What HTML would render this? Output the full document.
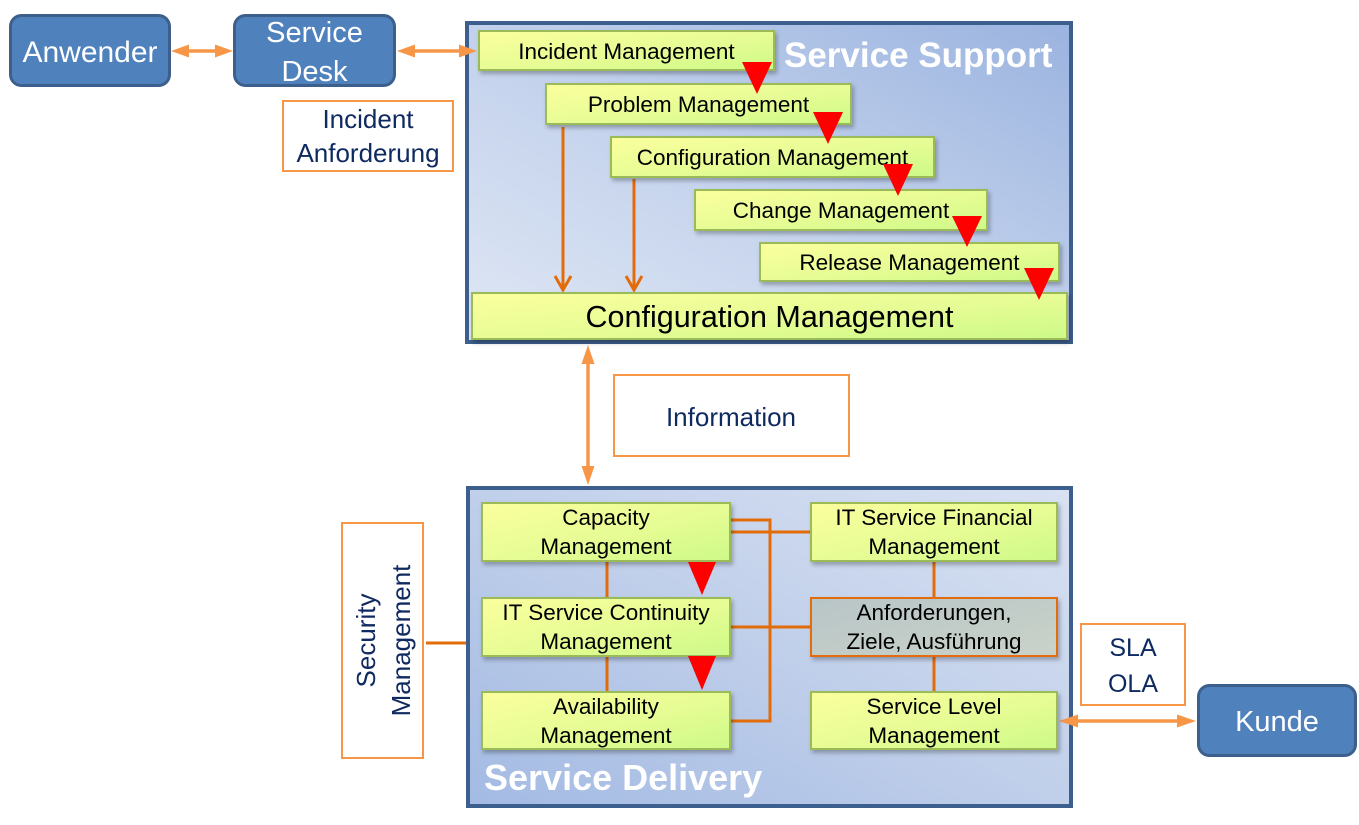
<!DOCTYPE html>
<html>
<head>
<meta charset="utf-8">
<style>
  html,body{margin:0;padding:0;background:#fff;}
  svg{display:block;}
  text{font-family:"Liberation Sans", Arial, sans-serif;}
</style>
</head>
<body>
<svg width="1359" height="825" viewBox="0 0 1359 825" xmlns="http://www.w3.org/2000/svg">
  <defs>
    <linearGradient id="sup" x1="0" y1="1" x2="1" y2="0">
      <stop offset="0" stop-color="#dfe7f4"/>
      <stop offset="0.5" stop-color="#c2d1ec"/>
      <stop offset="1" stop-color="#9ab3df"/>
    </linearGradient>
    <linearGradient id="del" x1="1" y1="0" x2="0" y2="1">
      <stop offset="0" stop-color="#d9e2f2"/>
      <stop offset="0.5" stop-color="#c0cfea"/>
      <stop offset="1" stop-color="#a3bae3"/>
    </linearGradient>
    <linearGradient id="grn" x1="0" y1="0" x2="1" y2="1">
      <stop offset="0" stop-color="#fbff9e"/>
      <stop offset="0.55" stop-color="#e6fc94"/>
      <stop offset="1" stop-color="#cdfa88"/>
    </linearGradient>
    <linearGradient id="gry" x1="0" y1="0" x2="1" y2="1">
      <stop offset="0" stop-color="#b8c5c7"/>
      <stop offset="1" stop-color="#cad3c9"/>
    </linearGradient>
    <filter id="sh" x="-5%" y="-20%" width="115%" height="150%">
      <feDropShadow dx="2" dy="3" stdDeviation="2" flood-color="#000" flood-opacity="0.28"/>
    </filter>
  </defs>

  <rect width="1359" height="825" fill="#fff"/>

  <!-- containers -->
  <rect x="467" y="23" width="604" height="319" fill="url(#sup)" stroke="#3d5f8e" stroke-width="4"/>
  <rect x="468" y="488" width="603" height="318" fill="url(#del)" stroke="#3d5f8e" stroke-width="4"/>

  <text x="784" y="67" font-size="35" font-weight="bold" fill="#ffffff">Service Support</text>
  <text x="484" y="790" font-size="36" font-weight="bold" fill="#ffffff">Service Delivery</text>

  <!-- dark orange connectors -->
  <g stroke="#e36c0a" stroke-width="3" fill="none">
    <path d="M563 127 V290"/>
    <path d="M555 276 L563 290 L571 276"/>
    <path d="M634 179 V290"/>
    <path d="M626 276 L634 290 L642 276"/>

    <path d="M731 520 H770 V721 H731"/>
    <path d="M731 532 H810"/>
    <path d="M731 627 H810"/>
    <path d="M607 562 V597"/>
    <path d="M607 657 V691"/>
    <path d="M934 562 V597"/>
    <path d="M934 657 V691"/>
    <path d="M426 643 H466"/>
  </g>

  <!-- light orange double arrows -->
  <g stroke="#f79646" stroke-width="3.5" fill="none">
    <path d="M186 51 H218"/>
    <path d="M412 51 H462"/>
    <path d="M588 362 V468"/>
    <path d="M1075 721 H1180"/>
  </g>
  <g fill="#f79646">
    <polygon points="171,51 189,44.5 189,57.5"/>
    <polygon points="233,51 215,44.5 215,57.5"/>
    <polygon points="397,51 415,44.5 415,57.5"/>
    <polygon points="477,51 459,44.5 459,57.5"/>
    <polygon points="588,345 581.5,364 594.5,364"/>
    <polygon points="588,485 581.5,466 594.5,466"/>
    <polygon points="1059,721 1078,714.5 1078,727.5"/>
    <polygon points="1196,721 1177,714.5 1177,727.5"/>
  </g>

  <!-- green boxes -->
  <g fill="url(#grn)" stroke="#9bbb59" stroke-width="2" filter="url(#sh)">
    <rect x="479" y="31" width="295" height="39"/>
    <rect x="546" y="84" width="305" height="40"/>
    <rect x="611" y="137" width="323" height="40"/>
    <rect x="695" y="190" width="292" height="40"/>
    <rect x="760" y="243" width="299" height="38"/>
    <rect x="472" y="293" width="595" height="46"/>

    <rect x="482" y="503" width="248" height="58"/>
    <rect x="482" y="598" width="248" height="58"/>
    <rect x="482" y="692" width="248" height="57"/>
    <rect x="811" y="503" width="246" height="58"/>
    <rect x="811" y="692" width="246" height="57"/>
  </g>
  <rect x="811" y="598" width="246" height="58" fill="url(#gry)" stroke="#e36c0a" stroke-width="2" filter="url(#sh)"/>

  <!-- box texts -->
  <g fill="#000" text-anchor="middle" font-size="22.5">
    <text x="626.5" y="59">Incident Management</text>
    <text x="698.5" y="112">Problem Management</text>
    <text x="772.5" y="165">Configuration Management</text>
    <text x="841" y="218">Change Management</text>
    <text x="909.5" y="270">Release Management</text>
    <text x="769.5" y="327" font-size="30.5">Configuration Management</text>

    <text x="606" y="525">Capacity</text>
    <text x="606" y="554">Management</text>
    <text x="606" y="620">IT Service Continuity</text>
    <text x="606" y="649">Management</text>
    <text x="606" y="714">Availability</text>
    <text x="606" y="743">Management</text>

    <text x="934" y="525">IT Service Financial</text>
    <text x="934" y="554">Management</text>
    <text x="934" y="620">Anforderungen,</text>
    <text x="934" y="649">Ziele, Ausführung</text>
    <text x="934" y="714">Service Level</text>
    <text x="934" y="743">Management</text>
  </g>

  <!-- red triangles -->
  <g fill="#ff0000">
    <polygon points="742,62 772,62 757,94"/>
    <polygon points="813,112 843,112 828,144"/>
    <polygon points="883,164 913,164 898,196"/>
    <polygon points="952,216 982,216 967,247"/>
    <polygon points="1024,268 1054,268 1039,300"/>
    <polygon points="688,562 716,562 702,595"/>
    <polygon points="688,656 716,656 702,690"/>
  </g>

  <!-- blue rounded boxes -->
  <g fill="#4f81bd" stroke="#3c5f8c" stroke-width="3">
    <rect x="10.5" y="15.5" width="159" height="70" rx="11"/>
    <rect x="234.5" y="15.5" width="160" height="70" rx="11"/>
    <rect x="1198.5" y="685.5" width="157" height="70" rx="11"/>
  </g>
  <g fill="#ffffff" text-anchor="middle">
    <text x="90" y="62" font-size="30">Anwender</text>
    <text x="314.5" y="42" font-size="29">Service</text>
    <text x="314.5" y="81" font-size="29">Desk</text>
    <text x="1277" y="731" font-size="29">Kunde</text>
  </g>

  <!-- label boxes -->
  <g fill="#ffffff" stroke="#f79646" stroke-width="2">
    <rect x="283" y="101" width="170" height="70"/>
    <rect x="614" y="375" width="235" height="81"/>
    <rect x="342" y="523" width="81" height="235"/>
    <rect x="1081" y="624" width="104" height="81"/>
  </g>
  <g fill="#0f2a60" text-anchor="middle" font-size="26">
    <text x="368" y="128">Incident</text>
    <text x="368" y="162">Anforderung</text>
    <text x="731" y="426">Information</text>
    <text transform="translate(375,640.5) rotate(-90)">Security</text>
    <text transform="translate(410,640.5) rotate(-90)">Management</text>
    <text x="1133" y="656" font-size="25">SLA</text>
    <text x="1133" y="692" font-size="25">OLA</text>
  </g>
</svg>
</body>
</html>
